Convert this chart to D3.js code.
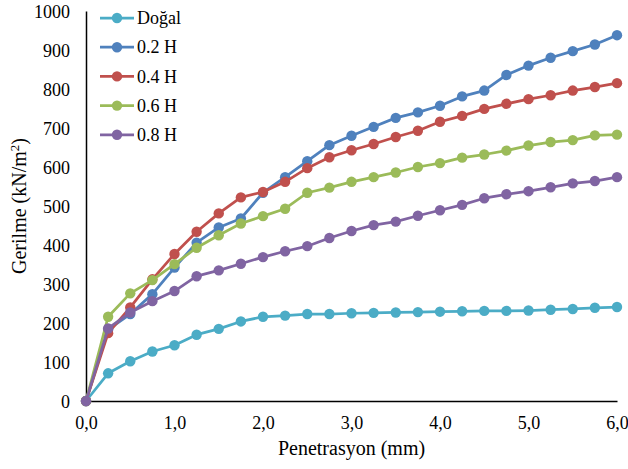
<!DOCTYPE html>
<html>
<head>
<meta charset="utf-8">
<script src="https://cdn.jsdelivr.net/npm/d3@7"></script>
<style>
  html, body { margin: 0; padding: 0; background: #fff; }
  svg { display: block; }
  text { font-family: "Liberation Serif", "Times New Roman", serif; fill: #000; }
</style>
</head>
<body>
<svg id="chart" width="628" height="469"></svg>
<script>
// Penetration readings (mm), every 0.25 mm
const penetration = [0, 0.25, 0.5, 0.75, 1.0, 1.25, 1.5, 1.75, 2.0, 2.25, 2.5, 2.75, 3.0,
  3.25, 3.5, 3.75, 4.0, 4.25, 4.5, 4.75, 5.0, 5.25, 5.5, 5.75, 6.0];

// Stress (kN/m²) per series
const dogal = [0, 71, 102, 127, 143, 170, 185, 204, 216, 219, 223, 223, 225, 226, 227, 228,
  229, 230, 231, 231, 232, 234, 236, 239, 241];
const h02 = [0, 183, 223, 274, 342, 406, 445, 468, 534, 574, 615, 656, 680, 703, 726, 740,
  757, 781, 796, 836, 860, 880, 897, 914, 938];
const h04 = [0, 174, 240, 312, 377, 434, 481, 522, 536, 562, 597, 625, 643, 659, 677, 693,
  716, 731, 749, 762, 774, 784, 796, 805, 815];
const h06 = [0, 216, 276, 310, 351, 393, 425, 455, 474, 493, 534, 547, 562, 574, 586, 600,
  610, 624, 632, 642, 655, 664, 669, 681, 683];
const h08 = [0, 186, 227, 256, 282, 320, 335, 352, 369, 384, 397, 418, 436, 451, 460, 475,
  489, 503, 520, 530, 538, 548, 558, 564, 574];

const seriesNames = ["Doğal", "0.2 H", "0.4 H", "0.6 H", "0.8 H"];
const seriesValues = [dogal, h02, h04, h06, h08];
const seriesColors = ["#4BACC6", "#4F81BD", "#C0504D", "#9BBB59", "#8064A2"];

const xTicks = [0, 1, 2, 3, 4, 5, 6];
const yTicks = [0, 100, 200, 300, 400, 500, 600, 700, 800, 900, 1000];

const svg = d3.select("#chart");
const plot = { left: 86, right: 617, top: 11, bottom: 401 };

const x = d3.scaleLinear().domain([0, 6]).range([plot.left, plot.right]);
const y = d3.scaleLinear().domain([0, 1000]).range([plot.bottom, plot.top]);

// Axes
const xAxis = d3.axisBottom(x).tickValues(xTicks).tickSize(0).tickPadding(0)
  .tickFormat(d => d3.format(".1f")(d).replace(".", ","));
const yAxis = d3.axisLeft(y).tickValues(yTicks).tickSize(0).tickPadding(0)
  .tickFormat(d3.format("d"));

const gx = svg.append("g").attr("transform", `translate(0,${plot.bottom})`).call(xAxis);
gx.select(".domain").attr("stroke", "#000").attr("stroke-width", 1.5);
gx.selectAll("text").attr("font-size", 18).attr("dy", null)
  .attr("y", 28).attr("font-family", "Liberation Serif");

const gy = svg.append("g").attr("transform", `translate(${plot.left},0)`).call(yAxis);
gy.select(".domain").attr("stroke", "#000").attr("stroke-width", 1.5);
gy.selectAll("text").attr("font-size", 18).attr("x", -16).attr("dy", "0.34em")
  .attr("font-family", "Liberation Serif");

// Axis titles
svg.append("text")
  .attr("x", (plot.left + plot.right) / 2)
  .attr("y", 455)
  .attr("text-anchor", "middle")
  .attr("font-size", 20)
  .text("Penetrasyon (mm)");

const yTitle = svg.append("text")
  .attr("transform", `translate(26,${(plot.top + plot.bottom) / 2}) rotate(-90)`)
  .attr("text-anchor", "middle")
  .attr("font-size", 20);
yTitle.append("tspan").text("Gerilme (kN/m");
yTitle.append("tspan").attr("font-size", 13).attr("baseline-shift", "super").text("2");
yTitle.append("tspan").text(")");

// Series lines and markers
const line = d3.line().x((d, i) => x(penetration[i])).y(d => y(d));

seriesValues.forEach((vals, k) => {
  const g = svg.append("g");
  g.append("path")
    .datum(vals)
    .attr("fill", "none")
    .attr("stroke", seriesColors[k])
    .attr("stroke-width", 2.75)
    .attr("stroke-linejoin", "round")
    .attr("d", line);
  g.selectAll("circle")
    .data(vals)
    .join("circle")
    .attr("cx", (d, i) => x(penetration[i]))
    .attr("cy", d => y(d))
    .attr("r", 5.2)
    .attr("fill", seriesColors[k]);
});

// Legend
const legend = svg.append("g");
seriesNames.forEach((name, k) => {
  const cy = 18 + k * 29.2;
  legend.append("line")
    .attr("x1", 100).attr("x2", 134)
    .attr("y1", cy).attr("y2", cy)
    .attr("stroke", seriesColors[k]).attr("stroke-width", 2.75);
  legend.append("circle")
    .attr("cx", 117).attr("cy", cy).attr("r", 5.2)
    .attr("fill", seriesColors[k]);
  legend.append("text")
    .attr("x", 137).attr("y", cy).attr("dy", "0.34em")
    .attr("font-size", 18)
    .text(name);
});
</script>
</body>
</html>
